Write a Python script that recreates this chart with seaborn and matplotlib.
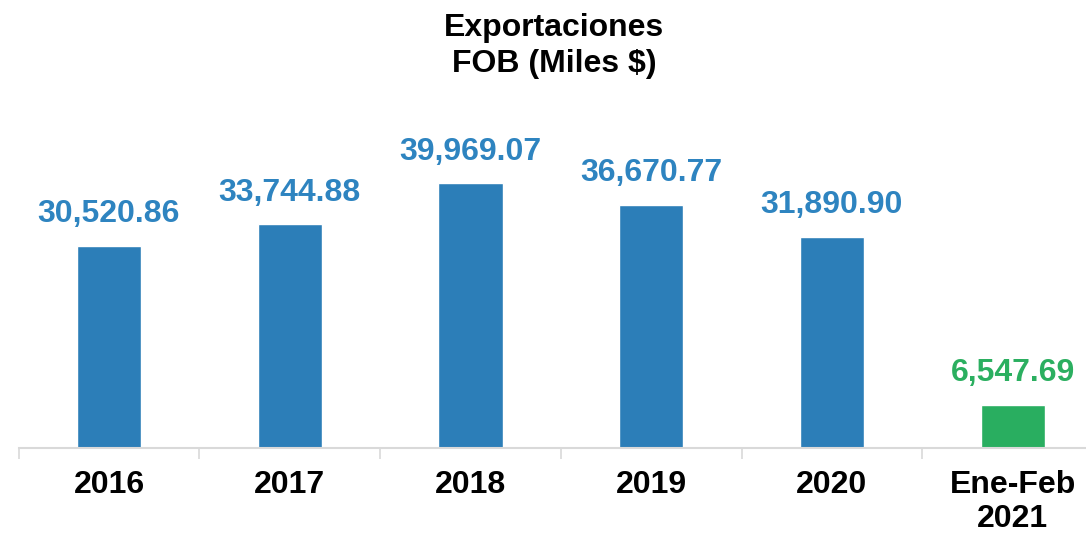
import matplotlib
matplotlib.use("Agg")
import matplotlib.pyplot as plt
import seaborn as sns
import pandas as pd
import numpy as np

categories = ["2016", "2017", "2018", "2019", "2020", "Ene-Feb\n2021"]
values = [30520.86, 33744.88, 39969.07, 36670.77, 31890.90, 6547.69]
labels = ["30,520.86", "33,744.88", "39,969.07", "36,670.77", "31,890.90", "6,547.69"]
title = "Exportaciones\nFOB (Miles $)"

blue = "#2C7EB8"
green = "#29AE60"
bar_colors = [blue, blue, blue, blue, blue, green]
text_colors = ["#2E84C0"] * 5 + ["#2BAF60"]

sns.set_theme(style="white")
plt.rcParams['font.family'] = ['Liberation Sans', 'DejaVu Sans']

df = pd.DataFrame({"cat": categories, "val": values})

fig = plt.figure(figsize=(10.86, 5.34), dpi=100)
W, H = 1086, 534
left, right = 18.6, 1103.0
bottom, top = 448, 118
ax = fig.add_axes([left / W, (H - bottom) / H, (right - left) / W, (bottom - top) / H])

sns.barplot(data=df, x="cat", y="val", hue="cat", palette=bar_colors, legend=False,
            width=0.355, ax=ax, saturation=1)

ax.set_ylim(0, 39969.07 * 329 / 264)
ax.set_xlim(-0.5, len(categories) - 0.5)

for i, (v, lab) in enumerate(zip(values, labels)):
    ax.annotate(lab, (i, v), xytext=(0, 12), textcoords="offset points",
                ha="center", va="bottom", fontsize=23, fontweight="bold",
                color=text_colors[i])

for s in ["top", "right", "left"]:
    ax.spines[s].set_visible(False)
ax.spines["bottom"].set_color("#D9D9D9")
ax.spines["bottom"].set_linewidth(1.5)
ax.set_yticks([])
ax.set_xlabel("")
ax.set_ylabel("")
ax.set_xticks(range(len(categories)))
ax.set_xticklabels(categories, fontsize=23, fontweight="bold", color="black", linespacing=1.15)
ax.set_xticks(np.arange(-0.5, len(categories), 1), minor=True)
ax.tick_params(axis="x", which="major", length=0, pad=16)
ax.tick_params(axis="x", which="minor", length=8, width=1.2, color="#D9D9D9", bottom=True)

fig.text(554 / W, 1 - 13 / H, title, ha="center", va="top", fontsize=23,
         fontweight="bold", color="black", linespacing=1.25)

fig.savefig("out.png", dpi=100)
